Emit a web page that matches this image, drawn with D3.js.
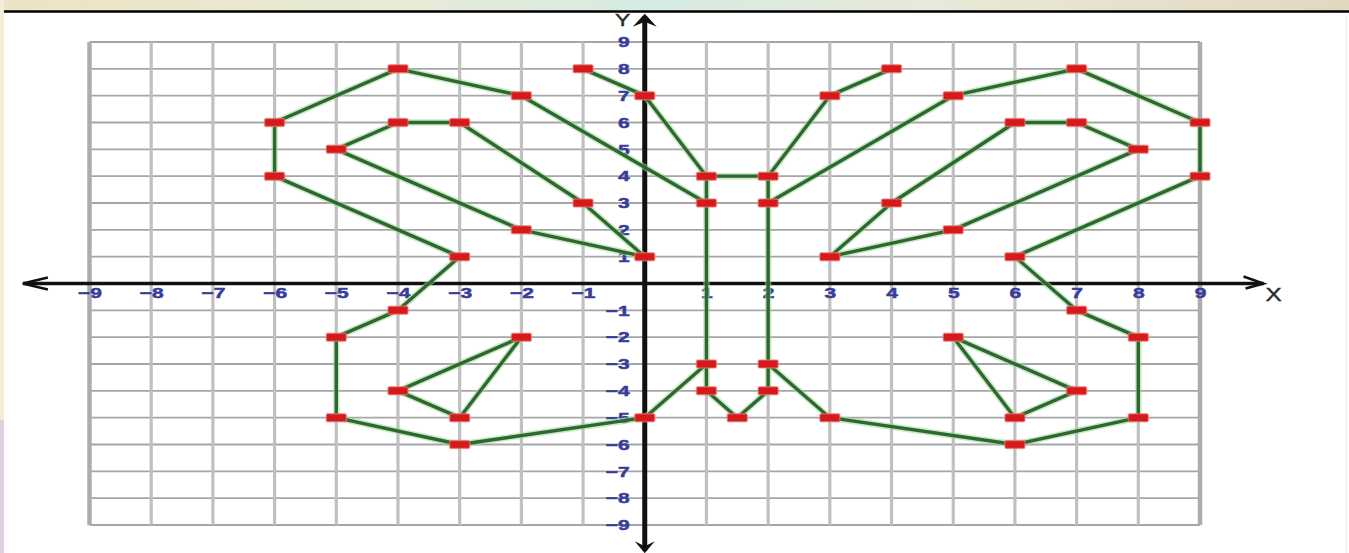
<!DOCTYPE html>
<html>
<head>
<meta charset="utf-8">
<script src="https://cdn.jsdelivr.net/npm/d3@7"></script>
<style>
  body { margin: 0; background: #fff; overflow: hidden; }
  svg { display: block; }
</style>
</head>
<body>
<script>
// tick labels and grid
var xTickValues = [-9, -8, -7, -6, -5, -4, -3, -2, -1, 1, 2, 3, 4, 5, 6, 7, 8, 9];
var yTickValues = [-9, -8, -7, -6, -5, -4, -3, -2, -1, 1, 2, 3, 4, 5, 6, 7, 8, 9];
var gridValues = [-9, -8, -7, -6, -5, -4, -3, -2, -1, 0, 1, 2, 3, 4, 5, 6, 7, 8, 9];

// butterfly outline, one array per drawn line
var topEdge = [[-1, 8], [0, 7], [1, 4], [2, 4], [3, 7], [4, 8]];
var leftUpperVein = [[-4, 8], [-2, 7], [1, 3]];
var rightUpperVein = [[7, 8], [5, 7], [2, 3]];
var leftOuter = [[-4, 8], [-6, 6], [-6, 4], [-3, 1], [-4, -1], [-5, -2], [-5, -5], [-3, -6], [0, -5], [1, -3]];
var rightOuter = [[7, 8], [9, 6], [9, 4], [6, 1], [7, -1], [8, -2], [8, -5], [6, -6], [3, -5], [2, -3]];
var body = [[1, 4], [1, 3], [1, -3], [1, -4], [1.5, -5], [2, -4], [2, -3], [2, 3], [2, 4]];
var leftInner = [[-3, 6], [-4, 6], [-5, 5], [-2, 2], [0, 1], [-1, 3], [-3, 6]];
var rightInner = [[6, 6], [7, 6], [8, 5], [5, 2], [3, 1], [4, 3], [6, 6]];
var leftLower = [[-4, -4], [-2, -2], [-3, -5], [-4, -4]];
var rightLower = [[7, -4], [5, -2], [6, -5], [7, -4]];

var shapes = [topEdge, leftUpperVein, rightUpperVein, leftOuter, rightOuter,
    body, leftInner, rightInner, leftLower, rightLower];

var width = 1349, height = 553;
var lineColor = "#2d682d";
var haloColor = "#9ed69a";
var markColor = "#d41a1a";
var labelColor = "#383c9a";

var svg = d3.select("body").append("svg")
    .attr("width", width)
    .attr("height", height);

// backdrop: photo strip on top and left, black rule
var grad = svg.append("defs").append("linearGradient")
    .attr("id", "strip").attr("x1", "0").attr("x2", "1");
[["0%", "#ece3c4"], ["30%", "#e7ebd6"], ["48%", "#d6ebe3"], ["70%", "#e9e9d9"], ["100%", "#e2d8c0"]]
    .forEach(function (s) {
        grad.append("stop").attr("offset", s[0]).attr("stop-color", s[1]);
    });
svg.append("rect").attr("x", 0).attr("y", 0).attr("width", width).attr("height", 11)
    .attr("fill", "url(#strip)");
svg.append("rect").attr("x", 0).attr("y", 0).attr("width", 4).attr("height", height)
    .attr("fill", "#f4edd5");
svg.append("rect").attr("x", 0).attr("y", 420).attr("width", 4).attr("height", 133)
    .attr("fill", "#ddd0e0");
svg.append("line").attr("x1", 4).attr("x2", width).attr("y1", 11.5).attr("y2", 11.5)
    .attr("stroke", "#000").attr("stroke-width", 2.5);
svg.append("line").attr("x1", 1346.5).attr("x2", 1346.5).attr("y1", 14).attr("y2", height)
    .attr("stroke", "#ececec").attr("stroke-width", 1);

var x = d3.scaleLinear().domain([-9, 9]).range([89.5, 1200]);
var y = d3.scaleLinear().domain([-9, 9]).range([525, 42]);

// grid
var grid = svg.append("g");
grid.selectAll(".hgrid").data(gridValues).enter().append("line")
    .attr("x1", x(-9)).attr("x2", x(9))
    .attr("y1", function (d) { return y(d); })
    .attr("y2", function (d) { return y(d); })
    .attr("stroke", "#a6a6a6")
    .attr("stroke-width", 1.9);
grid.selectAll(".vgrid").data(gridValues).enter().append("line")
    .attr("x1", function (d) { return x(d); })
    .attr("x2", function (d) { return x(d); })
    .attr("y1", y(9)).attr("y2", y(-9))
    .attr("stroke", function (d) { return Math.abs(d) === 9 ? "#adadad" : "#c0c0c0"; })
    .attr("stroke-width", function (d) { return Math.abs(d) === 9 ? 4.5 : 3.2; });

// axes lines
var axes = svg.append("g");
var xLeft = x(-10.08), xRight = x(10.03);
axes.append("line").attr("x1", xLeft).attr("x2", xRight)
    .attr("y1", y(0)).attr("y2", y(0))
    .attr("stroke", "#111").attr("stroke-width", 3.5);
axes.append("line").attr("x1", x(0)).attr("x2", x(0))
    .attr("y1", y(9.95)).attr("y2", y(-9.95))
    .attr("stroke", "#111").attr("stroke-width", 5);

// arrow heads
axes.append("path")
    .attr("d", "M" + (xLeft + 25) + "," + (y(0) - 6) + "L" + xLeft + "," + y(0) + "L" + (xLeft + 25) + "," + (y(0) + 6))
    .attr("fill", "none").attr("stroke", "#111").attr("stroke-width", 2.5);
axes.append("path")
    .attr("d", "M" + (xRight - 20) + "," + (y(0) - 7) + "L" + xRight + "," + y(0) + "L" + (xRight - 18) + "," + (y(0) + 5))
    .attr("fill", "none").attr("stroke", "#111").attr("stroke-width", 2.5);
var yTop = y(10.05), yBot = y(-10.05);
axes.append("path")
    .attr("d", "M" + x(0) + "," + yTop + "L" + (x(0) + 12) + "," + (yTop + 13) + "L" + x(0) + "," + (yTop + 8) + "L" + (x(0) - 12) + "," + (yTop + 13) + "Z")
    .attr("fill", "#111");
axes.append("path")
    .attr("d", "M" + x(0) + "," + yBot + "L" + (x(0) + 10) + "," + (yBot - 12) + "L" + x(0) + "," + (yBot - 7) + "L" + (x(0) - 10) + "," + (yBot - 12) + "Z")
    .attr("fill", "#111");

// tick labels via d3 axes
var xAxis = svg.append("g")
    .attr("transform", "translate(0," + y(0) + ")")
    .call(d3.axisBottom(x).tickValues(xTickValues).tickSize(0).tickPadding(4));
var yAxis = svg.append("g")
    .attr("transform", "translate(" + x(0) + ",0)")
    .call(d3.axisLeft(y).tickValues(yTickValues).tickSize(0).tickPadding(0));
[xAxis, yAxis].forEach(function (a) {
    a.select(".domain").remove();
    a.selectAll("text")
        .attr("fill", labelColor)
        .attr("stroke", labelColor)
        .attr("stroke-width", 0.5)
        .style("font-family", "'Liberation Sans', Arial, sans-serif")
        .style("font-size", "15px")
        .style("font-weight", "bold");
});
xAxis.selectAll("text").attr("x", 0).attr("transform", "scale(1.4,1)");
yAxis.selectAll("text").attr("x", 0).attr("transform", "translate(-15,0) scale(1.4,1)");

// axis names
svg.append("text").attr("x", 0).attr("y", 0)
    .attr("transform", "translate(" + (x(0) - 22) + "," + y(9.6) + ") scale(1.35,1)")
    .attr("text-anchor", "middle")
    .style("font-family", "'Liberation Sans', Arial, sans-serif")
    .style("font-size", "17px").attr("fill", "#2a2a2a")
    .attr("stroke", "#2a2a2a").attr("stroke-width", 0.4).text("Y");
svg.append("text").attr("x", 0).attr("y", 0)
    .attr("transform", "translate(" + (xRight + 10) + "," + (y(0) + 17) + ") scale(1.35,1)")
    .attr("text-anchor", "middle")
    .style("font-family", "'Liberation Sans', Arial, sans-serif")
    .style("font-size", "18px").attr("fill", "#2a2a2a")
    .attr("stroke", "#2a2a2a").attr("stroke-width", 0.4).text("X");

// butterfly lines
var line = d3.line()
    .x(function (d) { return x(d[0]); })
    .y(function (d) { return y(d[1]); });
var lines = svg.append("g").attr("fill", "none").attr("stroke-linejoin", "round");
lines.selectAll(".halo").data(shapes).enter().append("path")
    .attr("d", line)
    .attr("stroke", haloColor).attr("stroke-opacity", 0.55).attr("stroke-width", 6.5);
lines.selectAll(".core").data(shapes).enter().append("path")
    .attr("d", line)
    .attr("stroke", lineColor).attr("stroke-width", 3.4);

// red markers at every vertex
var seen = {};
var points = [];
shapes.forEach(function (s) {
    s.forEach(function (p) {
        var k = p[0] + "," + p[1];
        if (!seen[k]) { seen[k] = true; points.push(p); }
    });
});
svg.append("g").selectAll("rect").data(points).enter().append("rect")
    .attr("x", function (d) { return x(d[0]) - 10; })
    .attr("y", function (d) { return y(d[1]) - 4; })
    .attr("width", 20).attr("height", 8)
    .attr("rx", 1.5)
    .attr("fill", markColor)
    .attr("stroke", "#ee7a7a").attr("stroke-opacity", 0.6).attr("stroke-width", 1.5);
</script>
</body>
</html>
